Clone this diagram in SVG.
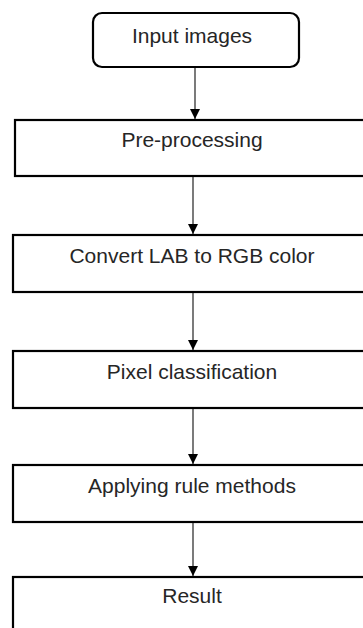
<svg xmlns="http://www.w3.org/2000/svg" width="363" height="628" viewBox="0 0 363 628">
<defs>
<marker id="ah" viewBox="0 0 10 10" refX="10" refY="5" markerWidth="10" markerHeight="10" markerUnits="userSpaceOnUse" orient="auto">
<path d="M0,0 L10,5 L0,10 Z" fill="#000"/>
</marker>
<style>
.box{fill:#fff;stroke:#000;stroke-width:2.2}
.lbl{font-family:"Liberation Sans",Arial,sans-serif;font-size:21px;fill:#262626;text-anchor:middle}
.conn{stroke:#222;stroke-width:1.2;fill:none;marker-end:url(#ah)}
</style>
</defs>
<rect width="363" height="628" fill="#fff"/>
<g id="n1"><rect class="box" x="93" y="13" width="206" height="54" rx="9"/><text class="lbl" x="192" y="43">Input images</text></g>
<g id="n2"><rect class="box" x="15" y="120" width="370" height="56"/><text class="lbl" x="192" y="147">Pre-processing</text></g>
<g id="n3"><rect class="box" x="13" y="235" width="372" height="57"/><text class="lbl" x="192" y="263">Convert LAB to RGB color</text></g>
<g id="n4"><rect class="box" x="13" y="351" width="372" height="57"/><text class="lbl" x="192" y="379">Pixel classification</text></g>
<g id="n5"><rect class="box" x="13" y="465" width="372" height="57"/><text class="lbl" x="192" y="493">Applying rule methods</text></g>
<g id="n6"><rect class="box" x="13" y="577" width="372" height="70"/><text class="lbl" x="192" y="603">Result</text></g>
<g id="connectors">
<line class="conn" x1="195" y1="68" x2="195" y2="119"/>
<line class="conn" x1="193" y1="177" x2="193" y2="234"/>
<line class="conn" x1="193" y1="293" x2="193" y2="350"/>
<line class="conn" x1="193" y1="409" x2="193" y2="464"/>
<line class="conn" x1="193" y1="523" x2="193" y2="576"/>
</g>
</svg>
